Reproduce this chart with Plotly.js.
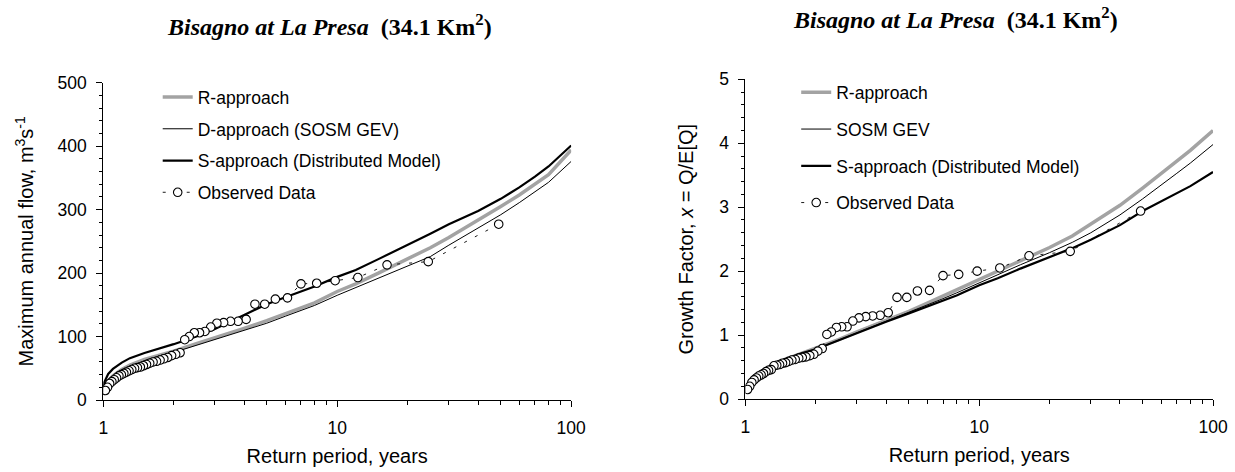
<!DOCTYPE html>
<html>
<head>
<meta charset="utf-8">
<script src="https://cdn.plot.ly/plotly-3.0.1.min.js"></script>
<style>html,body{margin:0;padding:0;background:#fff;}#chart{width:1235px;height:472px;}</style>
</head>
<body>
<div id="chart"></div>
<script>
// ---- data ----
const returnPeriodCurve = [1.001, 1.01, 1.05, 1.1, 1.2, 1.3, 1.5, 1.75, 2, 2.5, 3, 4, 5, 6, 7, 8, 10, 12, 15, 20, 25, 30, 40, 50, 60, 70, 80, 100];

// Left panel: maximum annual flow (m3/s)
const flowR = [10, 18, 30, 38, 48, 55, 64, 71, 77, 89, 98, 113, 125, 136, 145, 153, 171, 183, 200, 222, 240, 256, 283, 305, 323, 340, 355, 394];
const flowD = [8, 16, 28, 36, 46, 53, 62, 70, 75, 86, 95, 109, 121, 132, 141, 149, 165, 177, 192, 211, 226, 244, 271, 292, 311, 328, 343, 376];
const flowS = [12, 28, 41, 49, 59, 66, 74, 81, 88, 100, 112, 134, 151, 162, 171, 179, 194, 205, 222, 244, 262, 277, 298, 317, 335, 352, 368, 401];

// Right panel: growth factor x = Q/E[Q]
const growthR = [0.10, 0.19, 0.30, 0.37, 0.46, 0.53, 0.63, 0.72, 0.79, 0.93, 1.05, 1.23, 1.37, 1.50, 1.61, 1.71, 1.87, 2.00, 2.16, 2.37, 2.55, 2.73, 3.03, 3.30, 3.52, 3.72, 3.89, 4.20];
const growthD = [0.10, 0.19, 0.30, 0.37, 0.46, 0.53, 0.63, 0.72, 0.78, 0.92, 1.04, 1.22, 1.35, 1.47, 1.57, 1.66, 1.82, 1.94, 2.10, 2.29, 2.45, 2.60, 2.88, 3.13, 3.34, 3.53, 3.69, 3.98];
const growthS = [0.10, 0.19, 0.30, 0.37, 0.46, 0.53, 0.63, 0.72, 0.78, 0.92, 1.04, 1.21, 1.34, 1.45, 1.54, 1.62, 1.78, 1.89, 2.04, 2.22, 2.36, 2.49, 2.72, 2.94, 3.09, 3.22, 3.33, 3.55];

// Observed data (plotting positions)
const returnPeriodObs = [49, 24.5, 16.33, 12.25, 9.8, 8.17, 7, 6.13, 5.44, 4.9, 4.45, 4.08, 3.77, 3.5, 3.27, 3.06, 2.88, 2.72, 2.58, 2.45, 2.33, 2.23, 2.13, 2.04, 1.96, 1.885, 1.815, 1.75, 1.69, 1.633, 1.58, 1.531, 1.485, 1.441, 1.4, 1.361, 1.324, 1.289, 1.256, 1.225, 1.195, 1.167, 1.14, 1.114, 1.089, 1.065, 1.043, 1.021];
const flowObs = [277, 218, 213, 193, 188, 184, 183, 161, 159, 151, 151, 127, 124, 124, 122, 121, 115, 108, 106, 106, 100, 95, 74.5, 72, 70, 67, 65, 63, 61, 60, 58, 56, 54, 52, 51, 50, 48, 46, 44, 42, 40, 38, 35, 32, 29, 26, 20, 15];
const growthObs = [2.94, 2.31, 2.24, 2.05, 2.00, 1.95, 1.93, 1.70, 1.69, 1.59, 1.59, 1.35, 1.31, 1.30, 1.29, 1.27, 1.22, 1.13, 1.13, 1.12, 1.05, 1.01, 0.79, 0.75, 0.70, 0.68, 0.66, 0.65, 0.64, 0.62, 0.61, 0.59, 0.57, 0.56, 0.54, 0.53, 0.52, 0.46, 0.45, 0.43, 0.40, 0.38, 0.36, 0.33, 0.30, 0.26, 0.20, 0.15];

const legendLeft = ['R-approach', 'D-approach (SOSM GEV)', 'S-approach (Distributed Model)', 'Observed Data'];
const legendRight = ['R-approach', 'SOSM GEV', 'S-approach (Distributed Model)', 'Observed Data'];
const majorTicksX = [1, 10, 100];
const minorTicksX = [2, 3, 4, 5, 6, 7, 8, 9, 20, 30, 40, 50, 60, 70, 80, 90];
const panelTitle = '<b><i>Bisagno at La Presa</i></b>  <b>(34.1 Km<sup>2</sup>)</b>';

// ---- styles ----
const SANS = 'Liberation Sans, Arial, sans-serif';
const SERIF = 'Liberation Serif, Times New Roman, serif';
const styleR = {color: '#a3a3a3', width: 3.5};
const styleD = {color: '#000', width: 1};
const styleS = {color: '#000', width: 2.2};
const styleObsLine = {color: '#000', width: 0.9, dash: '3px,9px'};
const styleObsMarker = {symbol: 'circle', size: 8.5, color: '#fff', line: {color: '#000', width: 1.1}};

function panelTraces(xa, ya, legend, names, yR, yD, yS, yObs, grp) {
  const base = {xaxis: xa, yaxis: ya, legend: legend, hoverinfo: 'x+y'};
  return [
    Object.assign({type: 'scatter', mode: 'lines', name: names[0], x: returnPeriodCurve, y: yR, line: styleR, legendgroup: grp + '1'}, base),
    Object.assign({type: 'scatter', mode: 'lines', name: names[1], x: returnPeriodCurve, y: yD, line: styleD, legendgroup: grp + '2'}, base),
    Object.assign({type: 'scatter', mode: 'lines', name: names[2], x: returnPeriodCurve, y: yS, line: styleS, legendgroup: grp + '3'}, base),
    Object.assign({type: 'scatter', mode: 'lines+markers', name: names[3], x: returnPeriodObs, y: yObs, line: styleObsLine, marker: styleObsMarker, legendgroup: grp + '4'}, base)
  ];
}

const traces = [].concat(
  panelTraces('x', 'y', 'legend', legendLeft, flowR, flowD, flowS, flowObs, 'L'),
  panelTraces('x2', 'y2', 'legend2', legendRight, growthR, growthD, growthS, growthObs, 'R')
);

const tickFont = {family: SANS, size: 17.5, color: '#000'};
const titleFont = {family: SANS, size: 20, color: '#000'};

function xAxis(domain, anchor) {
  return {
    domain: domain, anchor: anchor, type: 'log', range: [0, 2],
    tickmode: 'array', tickvals: majorTicksX, ticktext: majorTicksX.map(String),
    ticks: 'outside', ticklen: 6, tickwidth: 1, tickcolor: '#000',
    minor: {tickmode: 'array', tickvals: minorTicksX, ticks: 'outside', ticklen: 4, tickwidth: 1, tickcolor: '#000', showgrid: false},
    showline: true, linecolor: '#000', linewidth: 1, showgrid: false, zeroline: false,
    tickfont: tickFont, ticklabelstandoff: 6, automargin: false,
    title: {text: 'Return period, years', font: titleFont, standoff: 11}
  };
}
function xOverlay(over, anchor) {
  return {overlaying: over, anchor: anchor, type: 'log', range: [0, 2], matches: over,
    tickmode: 'array', tickvals: majorTicksX, ticks: 'inside', ticklen: 5, tickwidth: 1, tickcolor: '#000',
    showticklabels: false, showline: false, showgrid: false, zeroline: false, automargin: false};
}
function yAxis(domain, anchor, range, dtick, minorDtick, title, standoff) {
  return {
    domain: domain, anchor: anchor, range: range, tickmode: 'linear', tick0: 0, dtick: dtick,
    ticks: 'outside', ticklen: 6, tickwidth: 1, tickcolor: '#000',
    minor: {tickmode: 'linear', tick0: 0, dtick: minorDtick, ticks: 'outside', ticklen: 3, tickwidth: 1, tickcolor: '#000', showgrid: false},
    showline: true, linecolor: '#000', linewidth: 1, showgrid: false, zeroline: false,
    tickfont: tickFont, ticklabelstandoff: 6, automargin: false,
    title: {text: title, font: titleFont, standoff: standoff}
  };
}
function yOverlay(over, anchor, range, dtick, minorDtick) {
  return {overlaying: over, anchor: anchor, range: range, matches: over, tickmode: 'linear', tick0: 0, dtick: dtick,
    ticks: 'inside', ticklen: 5, tickwidth: 1, tickcolor: '#000',
    minor: {tickmode: 'linear', tick0: 0, dtick: minorDtick, ticks: 'inside', ticklen: 2, tickwidth: 1, tickcolor: '#000', showgrid: false},
    showticklabels: false, showline: false, showgrid: false, zeroline: false, automargin: false};
}

const legendBase = {
  font: {family: SANS, size: 17.5, color: '#000'}, bgcolor: 'rgba(0,0,0,0)', borderwidth: 0,
  xanchor: 'left', yanchor: 'top', traceorder: 'grouped', itemclick: false, itemdoubleclick: false
};

const layout = {
  width: 1235, height: 472,
  margin: {l: 0, r: 0, t: 0, b: 0},
  paper_bgcolor: '#fff', plot_bgcolor: '#fff',
  showlegend: true,
  xaxis: xAxis([0.0836, 0.4625], 'y'),
  yaxis: yAxis([0.1525, 0.8248], 'x', [0, 500], 100, 20, 'Maximum annual flow, m<sup>3</sup>s<sup>-1</sup>', 18),
  xaxis3: xOverlay('x', 'y'),
  yaxis3: yOverlay('y', 'x', [0, 500], 100, 20),
  xaxis2: xAxis([0.6036, 0.9822], 'y2'),
  yaxis2: yAxis([0.1545, 0.832], 'x2', [0, 5], 1, 0.2, 'Growth Factor, <i>x</i> = Q/E[Q]', 20),
  xaxis4: xOverlay('x2', 'y2'),
  yaxis4: yOverlay('y2', 'x2', [0, 5], 1, 0.2),
  legend: Object.assign({}, legendBase, {x: 0.1277, y: 0.8323, tracegroupgap: 6}),
  legend2: Object.assign({}, legendBase, {x: 0.6447, y: 0.8423, tracegroupgap: 11}),
  annotations: [
    {text: panelTitle, xref: 'paper', yref: 'paper', x: 329 / 1235, y: 1 - 25 / 472, xanchor: 'center', yanchor: 'middle', showarrow: false, font: {family: SERIF, size: 24, color: '#000'}},
    {text: panelTitle, xref: 'paper', yref: 'paper', x: 955 / 1235, y: 1 - 18 / 472, xanchor: 'center', yanchor: 'middle', showarrow: false, font: {family: SERIF, size: 24, color: '#000'}}
  ]
};

Plotly.newPlot('chart', traces, layout, {staticPlot: true, displayModeBar: false});
</script>
</body>
</html>
